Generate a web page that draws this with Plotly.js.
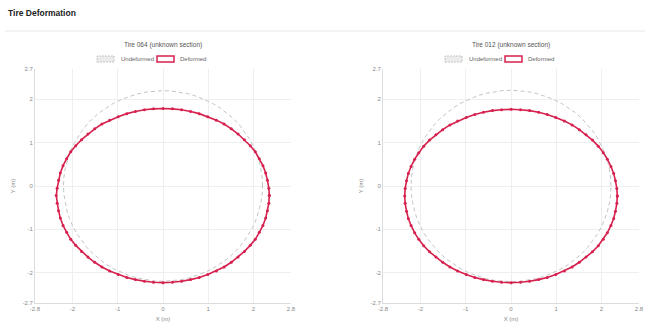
<!DOCTYPE html>
<html>
<head>
<meta charset="utf-8">
<script src="https://cdn.plot.ly/plotly-3.0.1.min.js"></script>
<style>
html,body{margin:0;padding:0;background:#fff;}
#chart{width:650px;height:322px;}
</style>
</head>
<body>
<div id="chart"></div>
<script>
// ---- data ----
var PAGE_TITLE = "Tire Deformation";
var TIRE_TITLES = ["Tire 064 (unknown section)", "Tire 012 (unknown section)"];
var SERIES_NAMES = ["Undeformed", "Deformed"];

// undeformed tire outline: angles (deg) and radius (m)
var UNDEF_ANGLES = [0,5,10,15,20,25,30,35,40,45,50,55,60,65,70,75,80,85,90,95,100,105,110,115,120,125,130,135,140,145,150,155,160,165,170,175,180,185,190,195,200,205,210,215,220,225,230,235,240,245,250,255,260,265,270,275,280,285,290,295,300,305,310,315,320,325,330,335,340,345,350,355];
var UNDEF_R_064 = 2.20;
var UNDEF_R_012 = 2.21;

// deformed tire points (m)
var DEF_X_064 = [2.35,2.34,2.31,2.27,2.21,2.13,2.04,1.93,1.80,1.66,1.51,1.35,1.18,0.99,0.80,0.61,0.41,0.21,0.00,
  -0.21,-0.41,-0.61,-0.80,-0.99,-1.18,-1.35,-1.51,-1.66,-1.80,-1.93,-2.04,-2.13,-2.21,-2.27,-2.31,-2.34,-2.36,
  -2.34,-2.31,-2.27,-2.21,-2.13,-2.04,-1.93,-1.80,-1.66,-1.51,-1.35,-1.18,-0.99,-0.80,-0.61,-0.41,-0.21,0.00,
  0.21,0.41,0.61,0.80,0.99,1.18,1.35,1.51,1.66,1.80,1.93,2.04,2.13,2.21,2.27,2.31,2.34];
var DEF_Y_064 = [-0.22,-0.05,0.13,0.30,0.47,0.63,0.79,0.93,1.07,1.20,1.32,1.43,1.52,1.60,1.67,1.72,1.76,1.78,1.79,
  1.78,1.76,1.72,1.67,1.60,1.52,1.43,1.32,1.20,1.07,0.93,0.79,0.63,0.47,0.30,0.13,-0.05,-0.22,
  -0.40,-0.57,-0.74,-0.91,-1.07,-1.23,-1.37,-1.51,-1.64,-1.76,-1.87,-1.96,-2.04,-2.11,-2.16,-2.20,-2.22,-2.23,
  -2.22,-2.20,-2.16,-2.11,-2.04,-1.96,-1.87,-1.76,-1.64,-1.51,-1.37,-1.23,-1.07,-0.91,-0.74,-0.57,-0.40];
var DEF_X_012 = [2.35,2.34,2.31,2.27,2.21,2.13,2.04,1.93,1.80,1.66,1.51,1.35,1.18,0.99,0.80,0.61,0.41,0.21,0.00,
  -0.21,-0.41,-0.61,-0.80,-0.99,-1.18,-1.35,-1.51,-1.66,-1.80,-1.93,-2.04,-2.13,-2.21,-2.27,-2.31,-2.34,-2.35,
  -2.34,-2.31,-2.27,-2.21,-2.13,-2.04,-1.93,-1.80,-1.66,-1.51,-1.35,-1.18,-0.99,-0.80,-0.61,-0.41,-0.21,0.00,
  0.21,0.41,0.61,0.80,0.99,1.18,1.35,1.51,1.66,1.80,1.93,2.04,2.13,2.21,2.27,2.31,2.34];
var DEF_Y_012 = [-0.23,-0.06,0.12,0.29,0.45,0.62,0.77,0.92,1.06,1.18,1.30,1.41,1.50,1.58,1.65,1.70,1.74,1.76,1.77,
  1.76,1.74,1.70,1.65,1.58,1.50,1.41,1.30,1.18,1.06,0.92,0.77,0.62,0.45,0.29,0.12,-0.06,-0.23,
  -0.40,-0.58,-0.75,-0.91,-1.08,-1.23,-1.38,-1.52,-1.64,-1.76,-1.87,-1.96,-2.04,-2.11,-2.16,-2.20,-2.22,-2.23,
  -2.22,-2.20,-2.16,-2.11,-2.04,-1.96,-1.87,-1.76,-1.64,-1.52,-1.38,-1.23,-1.08,-0.91,-0.75,-0.58,-0.40];

// axis ticks
var X_TICKVALS = [-2.83,-2,-1,0,1,2,2.83];
var X_TICKTEXT = ["-2.8","-2","-1","0","1","2","2.8"];
var Y_TICKVALS = [-2.7,-2,-1,0,1,2,2.7];
var Y_TICKTEXT = ["-2.7","-2","-1","0","1","2","2.7"];
var X_RANGE = [-2.83, 2.83];
var Y_RANGE = [-2.7, 2.7];

// ---- build ----
function closeLoop(a){ return a.concat([a[0]]); }
function circle(r){
  var xs = [], ys = [];
  UNDEF_ANGLES.concat([360]).forEach(function(d){
    var t = d*Math.PI/180; xs.push(r*Math.cos(t)); ys.push(r*Math.sin(t));
  });
  return {x: xs, y: ys};
}
var FONT = "Liberation Sans, Arial, sans-serif";
var RED = "#d6204e";
var GRAY = "#c4c4c4";

var c1 = circle(UNDEF_R_064), c2 = circle(UNDEF_R_012);
var traces = [
  {x: c1.x, y: c1.y, xaxis:'x', yaxis:'y', name: SERIES_NAMES[0], mode:'lines',
   line:{color:GRAY, width:1, dash:'4px,3px'}, showlegend:false, hoverinfo:'skip'},
  {x: closeLoop(DEF_X_064), y: closeLoop(DEF_Y_064), xaxis:'x', yaxis:'y', name: SERIES_NAMES[1], mode:'lines+markers',
   line:{color:RED, width:1.6}, marker:{color:RED, size:3}, showlegend:false},
  {x: c2.x, y: c2.y, xaxis:'x2', yaxis:'y2', name: SERIES_NAMES[0], mode:'lines',
   line:{color:GRAY, width:1, dash:'4px,3px'}, showlegend:false, hoverinfo:'skip'},
  {x: closeLoop(DEF_X_012), y: closeLoop(DEF_Y_012), xaxis:'x2', yaxis:'y2', name: SERIES_NAMES[1], mode:'lines+markers',
   line:{color:RED, width:1.6}, marker:{color:RED, size:3}, showlegend:false}
];

var W = 650, H = 322;
function px(v){ return v/W; }
function py(v){ return 1 - v/H; }

function xax(domain){
  return {domain: domain, range: X_RANGE, tickvals: X_TICKVALS, ticktext: X_TICKTEXT,
    showgrid:true, gridcolor:'#efefef', gridwidth:1, zeroline:false, showline:true, linecolor:'#dcdcdc',
    ticks:'', tickfont:{size:6, color:'#888', family:FONT},
    title:{text:'X (m)', font:{size:6, color:'#888', family:FONT}, standoff:5}};
}
function yax(domain, anchor){
  return {domain: domain, range: Y_RANGE, tickvals: Y_TICKVALS, ticktext: Y_TICKTEXT, anchor: anchor,
    showgrid:true, gridcolor:'#efefef', gridwidth:1, zeroline:false, showline:true, linecolor:'#dcdcdc',
    ticks:'', tickfont:{size:6, color:'#888', family:FONT},
    title:{text:'Y (m)', font:{size:6, color:'#888', family:FONT}, standoff:6}};
}
var yDom = [py(303), py(69)];
var x1Dom = [px(35), px(291)];
var x2Dom = [px(383), px(639)];

// legend (drawn as boxes + text, like the original)
var annotations = [
  {text:'<b>'+PAGE_TITLE+'</b>', xref:'paper', yref:'paper', x:px(6), y:py(13), xanchor:'left', yanchor:'middle',
   showarrow:false, font:{size:8.5, color:'#222', family:FONT}}
];
var shapes = [
  {type:'line', xref:'paper', yref:'paper', x0:px(5), x1:px(645), y0:py(31), y1:py(31),
   line:{color:'#e6e6e6', width:1}}
];
[0, 348].forEach(function(off, i){
  var dom = i === 0 ? x1Dom : x2Dom;
  annotations.push({text:TIRE_TITLES[i], xref:'paper', yref:'paper', x:(dom[0]+dom[1])/2, y:py(45),
    xanchor:'center', yanchor:'middle', showarrow:false, font:{size:6.5, color:'#555', family:FONT}});
  shapes.push({type:'rect', xref:'paper', yref:'paper', x0:px(97+off), x1:px(114+off), y0:py(62), y1:py(56),
    fillcolor:'rgba(200,200,200,0.35)', line:{color:GRAY, width:1, dash:'2px,1px'}});
  shapes.push({type:'rect', xref:'paper', yref:'paper', x0:px(157+off), x1:px(174+off), y0:py(62), y1:py(56),
    fillcolor:'#fff', line:{color:RED, width:1.5}});
  annotations.push({text:SERIES_NAMES[0], xref:'paper', yref:'paper', x:px(119+off), y:py(59),
    xanchor:'left', yanchor:'middle', showarrow:false, font:{size:6, color:'#666', family:FONT}});
  annotations.push({text:SERIES_NAMES[1], xref:'paper', yref:'paper', x:px(178+off), y:py(59),
    xanchor:'left', yanchor:'middle', showarrow:false, font:{size:6, color:'#666', family:FONT}});
});

var layout = {
  width: W, height: H,
  margin:{l:0, r:0, t:0, b:0, pad:0},
  paper_bgcolor:'#fff', plot_bgcolor:'#fff',
  font:{family:FONT},
  showlegend:false,
  xaxis: Object.assign(xax(x1Dom), {anchor:'y'}),
  yaxis: yax(yDom, 'x'),
  xaxis2: Object.assign(xax(x2Dom), {anchor:'y2'}),
  yaxis2: yax(yDom, 'x2'),
  annotations: annotations,
  shapes: shapes
};

Plotly.newPlot('chart', traces, layout, {displayModeBar:false, staticPlot:true});
</script>
</body>
</html>
